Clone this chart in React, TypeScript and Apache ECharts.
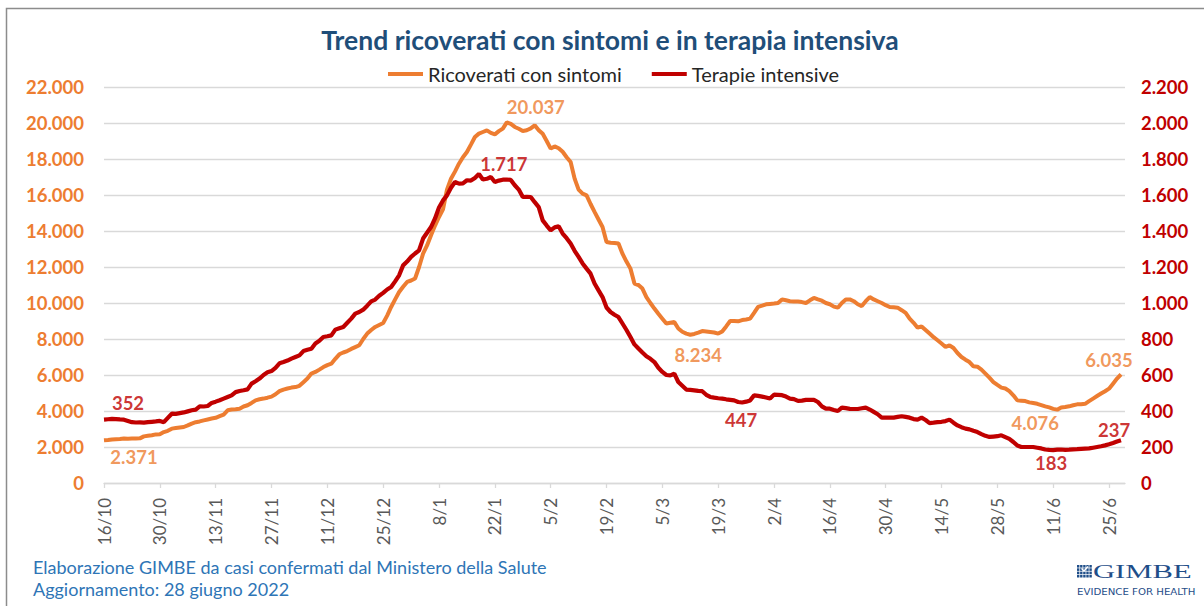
import React, { useEffect, useRef } from "react";
import * as echarts from "echarts";

// ---------- DATA ----------
const START_YEAR = 2021;
const START_MONTH = 10; // October
const START_DAY = 16;
const AXIS_DAYS = 257; // 16/10/2021 .. 29/6/2022 (last day without data)

// Ricoverati con sintomi (left axis), daily from 16/10/2021 to 28/6/2022
const ricoverati = [
  2371, 2390, 2420, 2430, 2440, 2470, 2460,
  2470, 2470, 2480, 2590, 2620, 2650, 2700,
  2710, 2830, 2900, 3020, 3050, 3080, 3110,
  3200, 3300, 3380, 3420, 3480, 3530, 3580,
  3620, 3710, 3800, 4040, 4080, 4100, 4130,
  4250, 4320, 4450, 4590, 4650, 4690, 4740,
  4800, 4930, 5100, 5190, 5250, 5300, 5330,
  5400, 5600, 5800, 6080, 6170, 6300, 6440,
  6550, 6630, 6900, 7150, 7250, 7330, 7450,
  7550, 7650, 8000, 8300, 8500, 8670, 8780,
  8890, 9300, 9780, 10200, 10610, 10900, 11170,
  11250, 11360, 12000, 12740, 13200, 13760, 14300,
  14780, 15200, 16300, 16900, 17300, 17740, 18100,
  18390, 18800, 19220, 19410, 19500, 19590, 19450,
  19370, 19550, 19690, 20037, 19950, 19780, 19680,
  19560, 19600, 19700, 19870, 19600, 19400, 19000,
  18580, 18700, 18600, 18400, 18100, 17830, 16910,
  16300, 16080, 15980, 15500, 15060, 14640, 14220,
  13390, 13350, 13330, 13300, 12740, 12300, 11910,
  11080, 11000, 10800, 10330, 10000, 9690, 9400,
  9130, 8860, 8900, 8940, 8580, 8400, 8300,
  8234, 8280, 8350, 8440, 8420, 8390, 8360,
  8300, 8420, 8700, 9000, 9000, 8980, 9050,
  9080, 9130, 9450, 9780, 9850, 9930, 9950,
  9970, 10000, 10200, 10150, 10100, 10080, 10080,
  10050, 10000, 10150, 10280, 10200, 10130, 10000,
  9930, 9800, 9740, 10000, 10200, 10200, 10100,
  9930, 9830, 10100, 10330, 10200, 10100, 10000,
  9880, 9780, 9760, 9740, 9600, 9450, 9130,
  8900, 8630, 8700, 8500, 8300, 8100, 7930,
  7750, 7560, 7650, 7500, 7220, 7000, 6850,
  6720, 6480, 6460, 6300, 6080, 5850, 5610,
  5450, 5300, 5250, 5100, 4870, 4590, 4570,
  4550, 4480, 4440, 4400, 4330, 4260, 4200,
  4120, 4076, 4200, 4220, 4260, 4320, 4370,
  4380, 4400, 4550, 4690, 4830, 4970, 5100,
  5240, 5520, 5800, 6035,
];

// Terapie intensive (right axis)
const terapie = [
  352, 354, 356, 355, 353, 352, 345,
  338, 336, 337, 335, 338, 340, 342,
  345, 338, 362, 385, 384, 388, 392,
  398, 404, 408, 426, 425, 428, 445,
  452, 460, 469, 478, 487, 505, 511,
  515, 520, 552, 565, 580, 600, 615,
  622, 640, 665, 672, 680, 691, 700,
  709, 733, 740, 746, 775, 790, 811,
  815, 820, 852, 860, 867, 890, 913,
  941, 950, 963, 985, 1009, 1019, 1040,
  1056, 1075, 1089, 1120, 1154, 1209, 1230,
  1256, 1275, 1293, 1358, 1390, 1422, 1470,
  1530, 1570, 1598, 1640, 1672, 1663, 1665,
  1682, 1680, 1695, 1717, 1686, 1690, 1700,
  1672, 1680, 1685, 1686, 1684, 1654, 1630,
  1589, 1590, 1589, 1560, 1533, 1459, 1430,
  1404, 1420, 1426, 1386, 1360, 1330, 1290,
  1256, 1220, 1191, 1163, 1108, 1070, 1033,
  975, 950, 935, 922, 886, 850, 811,
  770, 747, 725, 704, 690, 672, 640,
  617, 600, 598, 608, 561, 540, 519,
  517, 515, 512, 510, 490, 478, 474,
  471, 469, 465, 462, 459, 450, 447,
  452, 459, 487, 484, 480, 475, 469,
  491, 490, 488, 480, 469, 466, 456,
  458, 462, 462, 462, 450, 426, 413,
  413, 406, 400, 419, 416, 412, 411,
  411, 415, 419, 408, 395, 382, 363,
  363, 363, 363, 367, 371, 367, 363,
  355, 352, 363, 350, 333, 335, 338,
  340, 344, 352, 335, 320, 310, 302,
  298, 290, 283, 272, 262, 256, 258,
  260, 265, 255, 245, 228, 208, 200,
  200, 200, 200, 196, 192, 186, 184,
  183, 185, 186, 184, 185, 187, 188,
  190, 191, 192, 196, 200, 204, 209,
  215, 222, 230, 237,
];

// indices of the annotated points
const ricoveratiLabelIdx = [0, 101, 147, 239, 255];
const terapieLabelIdx = [0, 94, 160, 238, 255];

const LEFT_AXIS = { min: 0, max: 22000, interval: 2000 };
const RIGHT_AXIS = { min: 0, max: 2200, interval: 200 };
const TICK_EVERY = 14;

const SERIES_NAMES = ["Ricoverati con sintomi", "Terapie intensive"];
const TITLE = "Trend ricoverati con sintomi e in terapia intensiva";
const FOOTER_1 = "Elaborazione GIMBE da casi confermati dal Ministero della Salute";
const FOOTER_2 = "Aggiornamento: 28 giugno 2022";

// ---------- STYLE ----------
const ORANGE = "#ED7D31";
const RED = "#C00000";
const FONT = "Lato, 'Noto Sans', sans-serif";
const GRID_COLOR = "#D9D9D9";

const ricoveratiLabelOffsets = [[30, 17], [29, -15], [8, 20], [-22, 13], [-12, -14]];
const terapieLabelOffsets = [[24, -17], [25, -10], [-1, 17], [-2, 13], [-7, -10]];

function buildCategories(): string[] {
  const out: string[] = [];
  const d = new Date(START_YEAR, START_MONTH - 1, START_DAY, 12);
  for (let i = 0; i < AXIS_DAYS; i++) {
    out.push(`${d.getDate()}/${d.getMonth() + 1}`);
    d.setDate(d.getDate() + 1);
  }
  return out;
}

const fmt = (n: number) => String(n).replace(/\B(?=(\d{3})+(?!\d))/g, ".");

function logoGraphic() {
  const blue = "#1F4E89";
  const children: any[] = [];
  for (let r = 0; r < 4; r++) {
    for (let c = 0; c < 5; c++) {
      children.push({
        type: "rect",
        shape: { x: 1077 + c * 3.1, y: 565 + r * 3.3, width: 2.4, height: 2.6 },
        style: { fill: blue },
      });
    }
  }
  children.push({
    type: "polyline",
    shape: { points: [[1081.5, 568.5], [1084, 571], [1088, 566.5]] },
    style: { stroke: "#fff", lineWidth: 1.3, fill: "none" },
  });
  children.push({
    type: "group",
    x: 1093,
    y: 571.8,
    scaleX: 1.57,
    children: [
      {
        type: "text",
        x: 0,
        y: 0,
        style: {
          text: "GIMBE",
          fontFamily: "'Liberation Serif', 'DejaVu Serif', serif",
          fontSize: 19.5,
          fill: blue,
          textAlign: "left",
          textVerticalAlign: "middle",
        },
      },
    ],
  });
  children.push({
    type: "group",
    x: 1077,
    y: 592,
    scaleX: 1.2,
    children: [
      {
        type: "text",
        x: 0,
        y: 0,
        style: {
          text: "EVIDENCE FOR HEALTH",
          fontFamily: "'DejaVu Sans', sans-serif",
          fontSize: 8.5,
          fill: blue,
          textAlign: "left",
          textVerticalAlign: "middle",
        },
      },
    ],
  });
  return { type: "group", silent: true, children };
}

export default function App() {
  const ref = useRef<HTMLDivElement>(null);

  useEffect(() => {
    if (!ref.current) return;
    const chart = echarts.init(ref.current, undefined, { renderer: "svg" });
    const categories = buildCategories();

    const labelStyle = (color: string) => ({
      show: true,
      position: "inside",
      color,
      fontFamily: FONT,
      fontWeight: "bold",
      fontSize: 18.5,
      formatter: (p: any) => fmt(p.value[1]),
    });

    const option: any = {
      animation: false,
      color: [ORANGE, RED],
      textStyle: { fontFamily: FONT },
      grid: { left: 104, top: 87, width: 1021, height: 396, containLabel: false },
      legend: {
        data: SERIES_NAMES,
        left: 383,
        top: 59,
        icon: "rect",
        itemWidth: 35,
        itemHeight: 4,
        itemGap: 30,
        textStyle: { fontFamily: FONT, fontSize: 20, color: "#262626" },
        selectedMode: false,
      },
      xAxis: {
        type: "category",
        data: categories,
        boundaryGap: false,
        axisLine: { show: true, lineStyle: { color: GRID_COLOR, width: 1.3 } },
        axisTick: {
          show: true,
          interval: TICK_EVERY - 1,
          length: 5,
          lineStyle: { color: GRID_COLOR, width: 1.3 },
        },
        axisLabel: {
          interval: TICK_EVERY - 1,
          rotate: 90,
          margin: 15,
          fontFamily: FONT,
          fontSize: 17,
          color: "#595959",
        },
        splitLine: { show: false },
      },
      yAxis: [
        {
          type: "value",
          position: "left",
          ...LEFT_AXIS,
          axisLine: { show: false },
          axisTick: { show: false },
          splitLine: { show: true, lineStyle: { color: GRID_COLOR, width: 1.3 } },
          axisLabel: {
            formatter: (v: number) => fmt(v),
            color: ORANGE,
            fontWeight: "bold",
            fontFamily: FONT,
            fontSize: 18.5,
            margin: 20,
          },
        },
        {
          type: "value",
          position: "right",
          ...RIGHT_AXIS,
          axisLine: { show: false },
          axisTick: { show: false },
          splitLine: { show: false },
          axisLabel: {
            formatter: (v: number) => fmt(v),
            color: RED,
            fontWeight: "bold",
            fontFamily: FONT,
            fontSize: 18.5,
            margin: 16,
          },
        },
      ],
      series: [
        {
          name: SERIES_NAMES[0],
          type: "line",
          yAxisIndex: 0,
          data: ricoverati,
          showSymbol: false,
          symbol: "none",
          itemStyle: { color: ORANGE },
          lineStyle: { color: ORANGE, width: 4 },
          emphasis: { disabled: true },
          z: 2,
        },
        {
          name: SERIES_NAMES[1],
          type: "line",
          yAxisIndex: 1,
          data: terapie,
          showSymbol: false,
          symbol: "none",
          itemStyle: { color: RED },
          lineStyle: { color: RED, width: 4.2 },
          emphasis: { disabled: true },
          z: 3,
        },
        {
          name: "lab-ric",
          type: "scatter",
          yAxisIndex: 0,
          symbolSize: 1,
          itemStyle: { color: "rgba(0,0,0,0)" },
          silent: true,
          z: 5,
          label: labelStyle(ORANGE),
          data: ricoveratiLabelIdx.map((i, k) => ({
            value: [i, ricoverati[i]],
            label: { offset: ricoveratiLabelOffsets[k] },
          })),
        },
        {
          name: "lab-ti",
          type: "scatter",
          yAxisIndex: 1,
          symbolSize: 1,
          itemStyle: { color: "rgba(0,0,0,0)" },
          silent: true,
          z: 5,
          label: labelStyle(RED),
          data: terapieLabelIdx.map((i, k) => ({
            value: [i, terapie[i]],
            label: { offset: terapieLabelOffsets[k] },
          })),
        },
      ],
      graphic: [
        {
          type: "rect",
          silent: true,
          z: -10,
          shape: { x: 6.5, y: 8.5, width: 1260, height: 660 },
          style: { fill: "none", stroke: "#8C8C8C", lineWidth: 1.5 },
        },
        {
          type: "text",
          x: 610,
          y: 40,
          silent: true,
          style: {
            text: TITLE,
            fontFamily: FONT,
            fontWeight: "bold",
            fontSize: 26.5,
            fill: "#1F4E79",
            textAlign: "center",
            textVerticalAlign: "middle",
          },
        },
        {
          type: "text",
          x: 33,
          y: 567,
          silent: true,
          style: {
            text: FOOTER_1,
            fontFamily: FONT,
            fontSize: 18,
            fill: "#2E75B6",
            textAlign: "left",
            textVerticalAlign: "middle",
          },
        },
        {
          type: "text",
          x: 33,
          y: 589,
          silent: true,
          style: {
            text: FOOTER_2,
            fontFamily: FONT,
            fontSize: 18,
            fill: "#2E75B6",
            textAlign: "left",
            textVerticalAlign: "middle",
          },
        },
        logoGraphic(),
      ],
    };

    chart.setOption(option);
    return () => chart.dispose();
  }, []);

  return (
    <div
      ref={ref}
      style={{ position: "absolute", left: 0, top: 0, width: 1204, height: 606, background: "#fff" }}
    />
  );
}
